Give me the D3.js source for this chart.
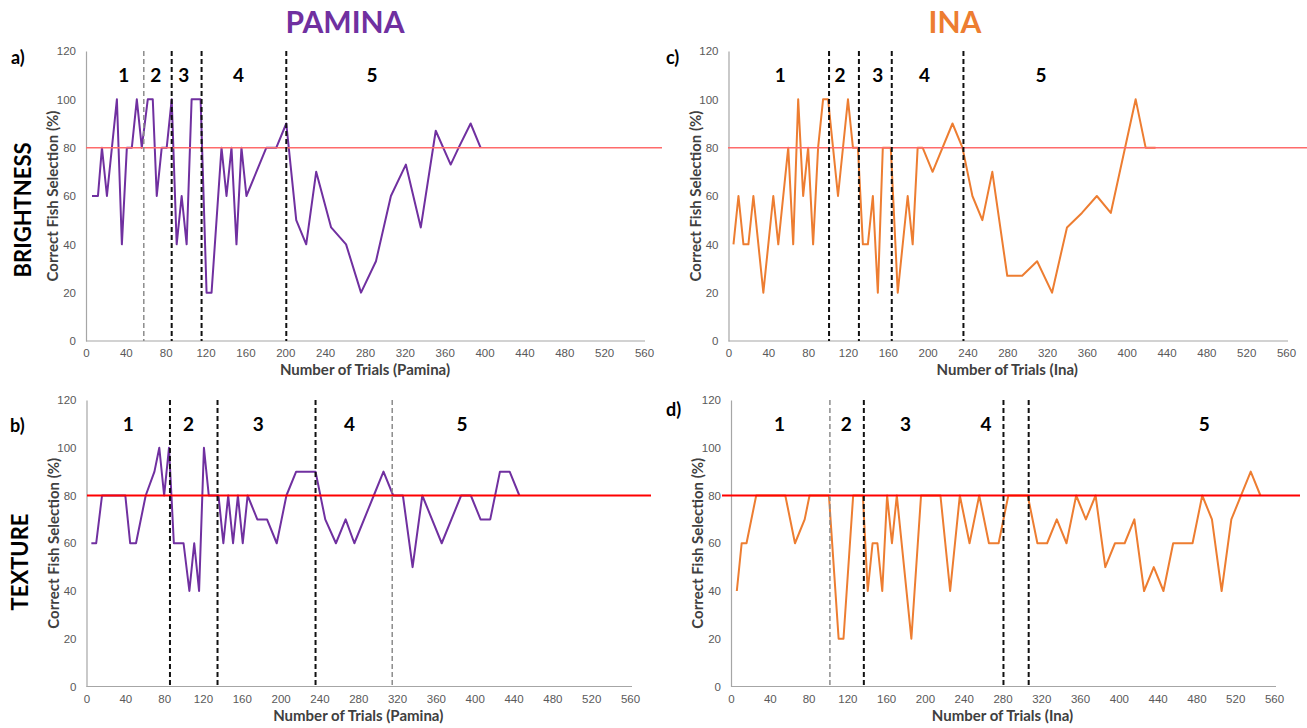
<!DOCTYPE html>
<html>
<head>
<meta charset="utf-8">
<script src="https://cdn.jsdelivr.net/npm/d3@7"></script>
<style>
  body { margin: 0; background: #fff; }
  text { font-family: Lato, "Open Sans", sans-serif; }
</style>
</head>
<body>
<svg width="1307" height="728"></svg>
<script>
// trials / % correct
var aTrials = [6,12,16,21,31,36,41,46,51,56,62,67,71,76,81,86,91,96,101,106,115,121,126,136,141,146,151,156,161,181,191,201,211,221,231,246,261,276,291,306,321,336,351,366,374,386,396];
var aValues = [60,60,80,60,100,40,80,80,100,80,100,100,60,80,80,100,40,60,40,100,100,20,20,80,60,80,40,80,60,80,80,90,50,40,70,47,40,20,33,60,73,47,87,73,80,90,80];

var cTrials = [5,10,15,20,25,35,45,50,60,65,70,75,80,85,90,95,100,105,110,120,125,130,135,140,145,150,155,163,170,180,185,190,195,205,225,235,245,255,265,280,295,310,325,340,355,370,384,409,419,429];
var cValues = [40,60,40,40,60,20,60,40,80,40,100,60,80,40,80,100,100,80,60,100,80,80,40,40,60,20,80,80,20,60,40,80,80,70,90,80,60,50,70,27,27,33,20,47,53,60,53,100,80,80];

var bTrials = [5,10,16,40,45,51,61,70,75,80,85,90,100,106,111,116,121,126,136,141,146,151,156,161,166,176,186,196,206,216,236,246,257,267,276,296,306,316,326,336,346,366,386,396,406,416,426,436,446];
var bValues = [60,60,80,80,60,60,80,90,100,80,100,60,60,40,60,40,100,80,80,60,80,60,80,60,80,70,70,60,80,90,90,70,60,70,60,80,90,80,80,50,80,60,80,80,70,70,90,90,80];

var dTrials = [6,11,16,26,36,46,56,66,76,81,91,101,111,116,126,136,141,146,151,156,161,166,171,186,196,206,216,226,236,246,256,266,276,286,296,306,316,326,336,346,356,366,376,386,396,406,416,426,436,446,456,466,476,486,496,506,516,536,546];
var dValues = [40,60,60,80,80,80,80,60,70,80,80,80,20,20,80,80,40,60,60,40,80,60,80,20,80,80,80,40,80,60,80,60,60,80,80,80,60,60,70,60,80,70,80,50,60,60,70,40,50,40,60,60,60,80,70,40,70,90,80];

// phase boundaries (trial number) and whether the line is the faint grey one
var aPhases = [58,86,116,201];
var aPhaseGrey = [true,false,false,false];
var cPhases = [101,131,164,236];
var cPhaseGrey = [false,false,false,false];
var bPhases = [86,135,236,315];
var bPhaseGrey = [false,false,false,true];
var dPhases = [102,137,281,307];
var dPhaseGrey = [true,false,false,false];

var phaseNames = ["1","2","3","4","5"];
var aPhaseLabelAt = [38,70,98,153,287];
var cPhaseLabelAt = [52,112,150,197,314];
var bPhaseLabelAt = [43,105,177,271,387];
var dPhaseLabelAt = [50,119,180,263,488];

var xTicks = d3.range(0, 561, 40);
var yTicks = d3.range(0, 121, 20);
var criterion = 80;

var PURPLE = '#7030a0';
var ORANGE = '#ed7d31';

var svg = d3.select('svg');

var panels = [
  {tag:'a)', trials:aTrials, values:aValues, phases:aPhases, grey:aPhaseGrey, labelAt:aPhaseLabelAt,
   color:PURPLE, xTitle:'Number of Trials (Pamina)',
   left:86, right:644, top:51, bottom:341, axisEnd:645, redFrom:86, redTo:662, redColor:'#ff6b6b', redW:1.5,
   tagX:11, tagY:64},
  {tag:'c)', trials:cTrials, values:cValues, phases:cPhases, grey:cPhaseGrey, labelAt:cPhaseLabelAt,
   color:ORANGE, xTitle:'Number of Trials (Ina)',
   left:728.5, right:1286, top:51, bottom:341, axisEnd:1288, redFrom:728, redTo:1307, redColor:'#ff6b6b', redW:1.5,
   tagX:666, tagY:64},
  {tag:'b)', trials:bTrials, values:bValues, phases:bPhases, grey:bPhaseGrey, labelAt:bPhaseLabelAt,
   color:PURPLE, xTitle:'Number of Trials (Pamina)',
   left:86.5, right:630, top:400, bottom:686.5, axisEnd:632, redFrom:87, redTo:651, redColor:'#ff0000', redW:2,
   tagX:10, tagY:432},
  {tag:'d)', trials:dTrials, values:dValues, phases:dPhases, grey:dPhaseGrey, labelAt:dPhaseLabelAt,
   color:ORANGE, xTitle:'Number of Trials (Ina)',
   left:731, right:1274, top:400, bottom:686.5, axisEnd:1276, redFrom:722, redTo:1300, redColor:'#ff0000', redW:2,
   tagX:666, tagY:416}
];

panels.forEach(drawPanel);

// column titles
svg.append('text').attr('x', 345).attr('y', 33).attr('text-anchor','middle')
   .style('font-size','30px').style('font-weight','bold').style('fill', PURPLE).text('PAMINA');
svg.append('text').attr('x', 955).attr('y', 33).attr('text-anchor','middle')
   .style('font-size','30px').style('font-weight','bold').style('fill', ORANGE).text('INA');

// row titles
svg.append('text').attr('transform','translate(31,210) rotate(-90)').attr('text-anchor','middle')
   .style('font-size','22px').style('font-weight','bold').style('fill','#000').text('BRIGHTNESS');
svg.append('text').attr('transform','translate(28,562) rotate(-90)').attr('text-anchor','middle')
   .style('font-size','22px').style('font-weight','bold').style('fill','#000').text('TEXTURE');

function drawPanel(p){
  var x = d3.scaleLinear().domain([0,560]).range([p.left, p.right]);
  var y = d3.scaleLinear().domain([0,120]).range([p.bottom, p.top]);
  var g = svg.append('g');

  // axes
  var xAxis = g.append('g').attr('transform','translate(0,' + p.bottom + ')')
      .call(d3.axisBottom(x).tickValues(xTicks).tickSize(0).tickPadding(8));
  var yAxis = g.append('g').attr('transform','translate(' + p.left + ',0)')
      .call(d3.axisLeft(y).tickValues(yTicks).tickSize(0).tickPadding(10));
  [xAxis, yAxis].forEach(function(ax){
    ax.select('.domain').attr('stroke','#a6a6a6').attr('stroke-width',1.2);
    ax.selectAll('text').style('font-family','"Liberation Sans", Arial, sans-serif')
      .style('font-size','11.5px').style('fill','#595959');
  });
  xAxis.select('.domain').attr('d', 'M' + p.left + ',0H' + p.axisEnd);

  // axis titles
  g.append('text').attr('x', (p.left + p.right)/2).attr('y', p.bottom + 34)
   .attr('text-anchor','middle').style('font-size','15px').style('font-weight','bold')
   .style('fill','#404040').text(p.xTitle);
  g.append('text')
   .attr('transform','translate(' + (p.left - 28) + ',' + y(60) + ') rotate(-90)')
   .attr('text-anchor','middle').style('font-size','15px').style('font-weight','bold')
   .style('fill','#404040').text('Correct Fish Selection (%)');

  // series
  var line = d3.line().x(function(d){ return x(d[0]); }).y(function(d){ return y(d[1]); });
  var pts = p.trials.map(function(t,i){ return [t, p.values[i]]; });
  g.append('path').datum(pts).attr('d', line)
   .attr('fill','none').attr('stroke', p.color).attr('stroke-width',2)
   .attr('stroke-linejoin','round');

  // 80% criterion
  g.append('line').attr('x1', p.redFrom).attr('x2', p.redTo)
   .attr('y1', y(criterion)).attr('y2', y(criterion))
   .attr('stroke', p.redColor).attr('stroke-width', p.redW);

  // phase boundaries
  g.selectAll('.phase').data(p.phases).enter().append('line')
   .attr('x1', function(d){ return x(d); }).attr('x2', function(d){ return x(d); })
   .attr('y1', y(120)).attr('y2', y(0))
   .attr('stroke', function(d,i){ return p.grey[i] ? '#8c8c8c' : '#111'; })
   .attr('stroke-width', function(d,i){ return p.grey[i] ? 1.5 : 2; })
   .attr('stroke-dasharray','5,3');

  g.selectAll('.phaseLabel').data(phaseNames).enter().append('text')
   .attr('x', function(d,i){ return x(p.labelAt[i]); })
   .attr('y', y(110) + 7)
   .attr('text-anchor','middle').style('font-size','19px').style('font-weight','bold')
   .style('fill','#000').text(function(d){ return d; });

  // panel tag
  g.append('text').attr('x', p.tagX).attr('y', p.tagY)
   .style('font-size','18px').style('font-weight','bold').style('fill','#000').text(p.tag);
}
</script>
</body>
</html>
